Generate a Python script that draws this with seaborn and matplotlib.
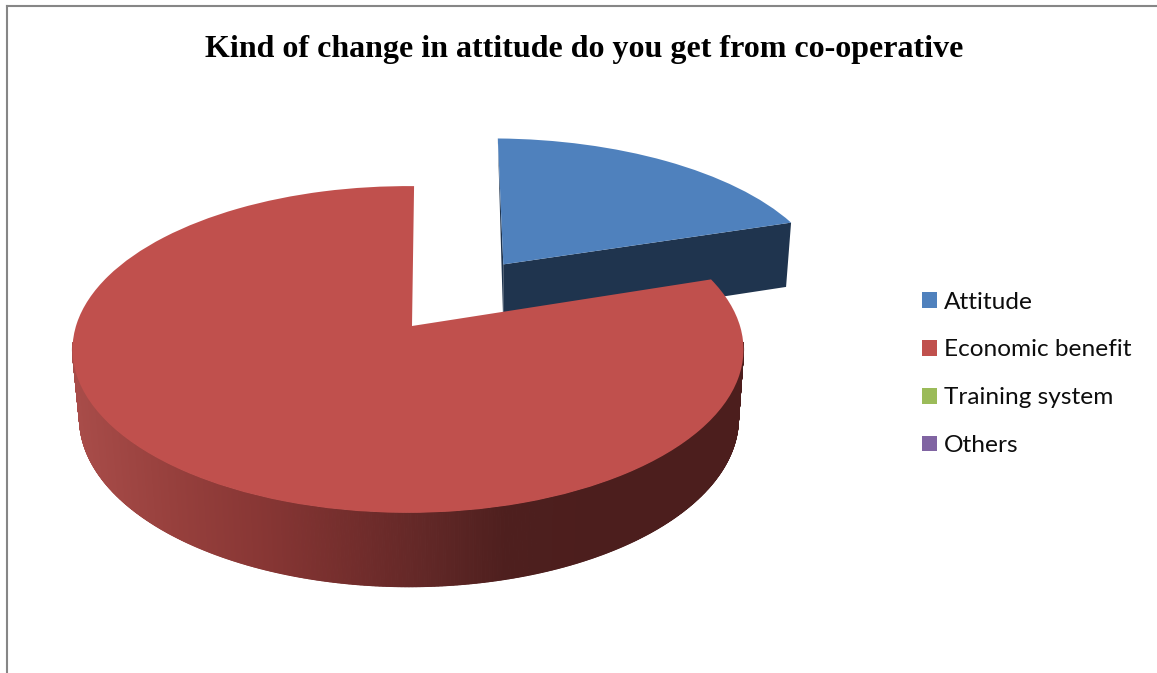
import numpy as np
import seaborn as sns
import matplotlib
matplotlib.use("Agg")
import matplotlib.pyplot as plt
from matplotlib.transforms import Transform
from matplotlib.collections import PolyCollection
from matplotlib.colors import LinearSegmentedColormap, Normalize

TITLE = "Kind of change in attitude do you get from co-operative"
categories = ["Attitude", "Economic benefit", "Training system", "Others"]
values = [19.75, 80.25, 0, 0]
explode = [0.5, 0, 0, 0]
palette = ["#4F81BD", "#C0504D", "#9BBB59", "#8064A2"]
FACE_NAVY = "#1F344E"

W, H = 1157, 673
sns.set_theme(style="white")
plt.rcParams["font.family"] = ["Lato", "DejaVu Sans"]


class Disk(Transform):
    """Perspective projection of the pie's plane to pixel-like axes units."""
    input_dims = 2
    output_dims = 2

    def __init__(self, x0, y0, b, a, k, apex_dx=0.0):
        super().__init__()
        self.x0, self.y0, self.b, self.a, self.k = x0, y0, b, a, k
        self.apex_dx = apex_dx

    def transform_non_affine(self, values):
        v = np.asarray(values, dtype=float)
        w = 1 + self.k * v[:, 1]
        r2 = np.clip(v[:, 0] ** 2 + v[:, 1] ** 2, 0, 1)
        return np.column_stack([self.x0 + self.b * v[:, 0] / w + self.apex_dx * (1 - r2),
                                self.y0 - self.a * v[:, 1] / w])


RED_TOP = Disk(408, 326, 332, 160, 0.1437, apex_dx=4)
RED_BOTTOM = Disk(409, 394, 326, 165, 0.1437)
BLUE_TOP = Disk(408, 325, 337, 160, 0.1437)
BLUE_BOTTOM = Disk(409.8, 392.5, 331, 165, 0.1437)

fig = plt.figure(figsize=(W / 100, H / 100), dpi=100, facecolor="white")
ax = fig.add_axes([7 / W, 0, (W - 7) / W, (H - 6) / H])

wedges, _ = ax.pie(values, explode=explode, colors=palette, startangle=88.8,
                   counterclock=False, radius=1, frame=True,
                   wedgeprops=dict(linewidth=0))
ax.set_aspect("auto")
ax.set_xlim(7, W)
ax.set_ylim(H, 6)
ax.set_xticks([])
ax.set_yticks([])
for name, spine in ax.spines.items():
    spine.set_visible(name in ("left", "top"))
    spine.set_color("#868686")
    spine.set_linewidth(1.5)


def rim(wedge, theta):
    t = np.radians(theta)
    cx, cy = wedge.center
    return np.column_stack([cx + wedge.r * np.cos(t), cy + wedge.r * np.sin(t)])


side_cmap = LinearSegmentedColormap.from_list(
    "side", [(0.0, "#A84C49"), (0.18, "#97403D"), (0.36, "#873634"),
             (0.55, "#702C2B"), (0.68, "#602726"), (0.82, "#4E1F1E"),
             (1.0, "#4C1E1D")], N=2048)
side_norm = Normalize(80, 600)

blue, red = wedges[0], wedges[1]

# blue slice: the flat cut face in front, a sliver on its back edge
apex = np.array([blue.center])
edge = np.vstack([apex, rim(blue, np.array([blue.theta1]))])
quad = np.vstack([BLUE_TOP.transform(edge), BLUE_BOTTOM.transform(edge)[::-1]])
ax.fill(quad[:, 0], quad[:, 1], color=FACE_NAVY, lw=0, zorder=1)
back = np.vstack([BLUE_TOP.transform(rim(blue, np.array([blue.theta2]))),
                  BLUE_TOP.transform(apex), BLUE_BOTTOM.transform(apex)])
ax.fill(back[:, 0], back[:, 1], color=FACE_NAVY, lw=0, zorder=1)
blue.set_transform(BLUE_TOP + ax.transData)
blue.set_zorder(2)

# red slice: shaded outer wall (its front part only), then its top
angles = np.linspace(red.theta1, red.theta2, 1400)
angles = angles[np.sin(np.radians(angles)) < -0.1]
top_rim = RED_TOP.transform(rim(red, angles))
low_rim = RED_BOTTOM.transform(rim(red, angles))
quads = [np.array([top_rim[i], top_rim[i + 1], low_rim[i + 1], low_rim[i]])
         for i in range(len(angles) - 1)]
cols = [side_cmap(side_norm(q[:, 0].mean())) for q in quads]
ax.add_collection(PolyCollection(quads, facecolors=cols, edgecolors=cols,
                                 linewidths=0.8, zorder=3), autolim=False)
red.set_transform(RED_TOP + ax.transData)
red.set_zorder(4)
for w in wedges[2:]:
    w.set_transform(RED_TOP + ax.transData)

ax.text(584, 56.5, TITLE, ha="center", va="baseline", fontsize=23, fontweight="bold",
        family=["Liberation Serif"], color="black")

leg = ax.legend(wedges, categories, loc="upper left", bbox_to_anchor=(922, 291.5),
                bbox_transform=ax.transData, frameon=False, fontsize=17.6,
                handlelength=0.61, handleheight=0.61, handletextpad=0.3,
                labelspacing=1.1, borderpad=0, borderaxespad=0,
                labelcolor="#0D0D0D")

fig.savefig("out.png", dpi=100, facecolor="white")
